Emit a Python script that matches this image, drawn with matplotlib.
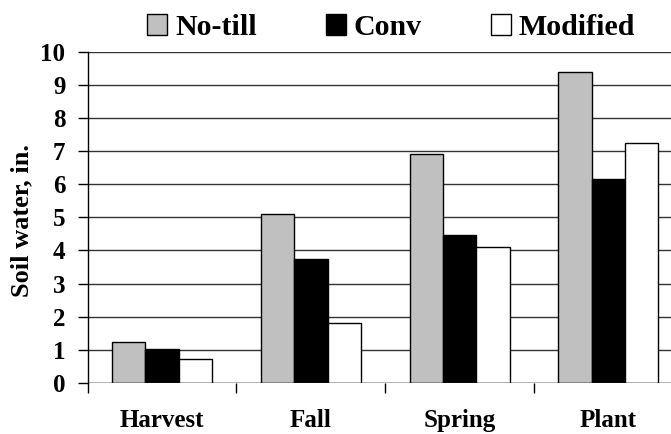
import numpy as np
import matplotlib.pyplot as plt
from matplotlib.patches import Patch

plt.rcParams['font.family'] = ['Liberation Serif', 'DejaVu Serif']
plt.rcParams['font.weight'] = 'bold'

# データ
categories = ["Harvest", "Fall", "Spring", "Plant"]
no_till = [1.23, 5.1, 6.9, 9.38]
conv = [1.04, 3.75, 4.46, 6.17]
modified = [0.73, 1.82, 4.12, 7.23]
series_names = ["No-till", "Conv", "Modified"]
colors = ["#c0c0c0", "#000000", "#ffffff"]

fig = plt.figure(figsize=(6.71, 4.34), dpi=100)
ax = fig.add_axes([0.1307, 0.1175, 0.887, 0.7634])

x = np.arange(len(categories))
w = 0.224
for i, (vals, c) in enumerate(zip([no_till, conv, modified], colors)):
    ax.bar(x + (i - 1) * w, vals, w, color=c, edgecolor="black",
           linewidth=1, zorder=3)

ax.set_xlim(-0.5, 3.5)
ax.set_ylim(0, 10)
ax.set_yticks(range(0, 11))
ax.yaxis.grid(True, color="#333333", linewidth=1, zorder=0)
for s in ["top", "right", "bottom"]:
    ax.spines[s].set_visible(False)
ax.spines["left"].set_linewidth(1)
ax.axhline(0, color="#333333", linewidth=1, zorder=4)

ax.set_xticks([-0.5, 0.5, 1.5, 2.5])
ax.set_xticklabels([])
ax.set_xticks(x, minor=True)
ax.set_xticklabels(categories, minor=True, fontsize=18, fontweight="bold")
ax.tick_params(axis="x", which="major", length=7, width=1, direction="out")
ax.tick_params(axis="x", which="minor", length=0, pad=19)
ax.tick_params(axis="y", length=7, width=1, labelsize=18, pad=9)
for lbl in ax.get_yticklabels():
    lbl.set_fontweight("bold")

ax.set_ylabel("Soil water, in.", fontsize=19, fontweight="bold")
ax.yaxis.set_label_coords(-0.092, 0.49)

handles = [Patch(facecolor=c, edgecolor="black", linewidth=1) for c in colors]
fig.legend(handles, series_names, loc="center", bbox_to_anchor=(0.583, 0.937),
           ncol=3, frameon=False, prop={"size": 21.5, "weight": "bold"},
           handlelength=0.67, handleheight=0.67, handletextpad=0.27,
           columnspacing=2.3, borderpad=0)

fig.savefig("out.png", dpi=100)
